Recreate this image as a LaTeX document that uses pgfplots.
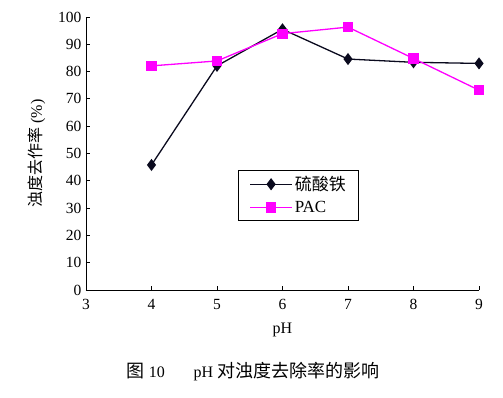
\documentclass[border=0pt]{standalone}
\usepackage{fontspec}
\setmainfont{Liberation Serif}
\newfontfamily\cjk{Noto Sans CJK SC}
\usepackage{pgfplots}
\pgfplotsset{compat=1.18}
\definecolor{mag}{RGB}{255,0,255}
\definecolor{dk}{RGB}{10,10,30}
\begin{document}
\begin{tikzpicture}
\begin{axis}[
  at={(0,0)}, anchor=south west,
  scale only axis, width=393pt, height=273pt,
  xmin=3, xmax=9, ymin=0, ymax=100,
  xtick={3,...,9}, ytick={0,10,...,100},
  axis lines=left, axis line style={-, line width=0.9pt},
  tick align=inside, major tick length=4pt,
  tick style={black, line width=0.9pt},
  /pgf/number format/assume math mode=true,
  tick label style={font=\fontsize{15.5}{17}\selectfont},
  xticklabel style={yshift=-6pt},
  yticklabel style={xshift=-1pt},
  xlabel={pH}, xlabel style={font=\fontsize{16}{18}\selectfont, yshift=-6pt},
  ylabel={\cjk 浊度去作率\rmfamily~(\%)}, ylabel style={font=\fontsize{16}{18}\selectfont, yshift=6pt},
  legend style={at={(axis cs:5.32,44)}, anchor=north west, draw=black, line width=0.9pt,
    font=\fontsize{17}{19}\selectfont, inner xsep=11pt, inner ysep=4pt,
    nodes={inner sep=2pt}, row sep=5pt},
  legend cell align=left,
  legend image code/.code={%
    \draw[#1, line width=1.4pt, mark repeat=2, mark phase=2] plot coordinates {(0pt,0pt) (21pt,0pt) (42pt,0pt)};},
  clip=false,
]
\addplot[color=dk, line width=1.3pt, mark=diamond*, mark size=5pt, mark options={fill=dk}]
  coordinates {(4,45.8) (5,82.1) (6,95.5) (7,84.6) (8,83.4) (9,83)};
\addlegendentry{\cjk 硫酸铁}
\addplot[color=mag, line width=1.3pt, mark=square*, mark size=4.5pt, mark options={fill=mag}]
  coordinates {(4,82.1) (5,83.9) (6,93.9) (7,96.3) (8,84.8) (9,73.2)};
\addlegendentry{PAC}
\end{axis}
\node[font=\fontsize{18}{20}\selectfont] at (167pt,-82pt) {{\cjk 图}~{\fontsize{16}{18}\selectfont 10}\hspace{1.6em}{\fontsize{16}{18}\selectfont pH}~{\cjk 对浊度去除率的影响}};
\useasboundingbox (-86pt,-107pt) rectangle (417pt,290pt);
\end{tikzpicture}
\end{document}
